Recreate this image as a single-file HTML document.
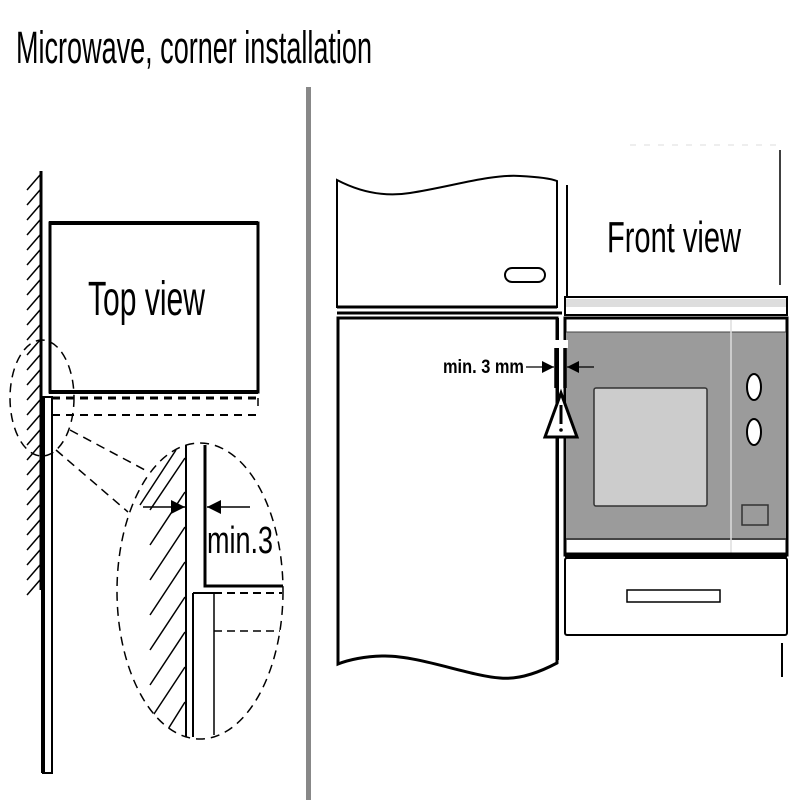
<!DOCTYPE html>
<html><head><meta charset="utf-8"><style>html,body{margin:0;padding:0;background:#fff}svg{display:block}</style></head>
<body>
<svg width="800" height="800" viewBox="0 0 800 800" xmlns="http://www.w3.org/2000/svg" font-family="Liberation Sans, sans-serif">
<defs>
<marker id="ah" viewBox="0 0 10 10" refX="10" refY="5" markerWidth="12" markerHeight="12" orient="auto" markerUnits="userSpaceOnUse">
<path d="M0,0 L10,5 L0,10 z" fill="#000"/></marker>
<marker id="ahb" viewBox="0 0 10 10" refX="10" refY="5" markerWidth="14" markerHeight="14" orient="auto" markerUnits="userSpaceOnUse">
<path d="M0,0 L10,5 L0,10 z" fill="#000"/></marker>
<clipPath id="bigc"><ellipse cx="200" cy="591" rx="83" ry="148"/></clipPath>
</defs>
<text x="16" y="63" font-size="45" textLength="356" lengthAdjust="spacingAndGlyphs">Microwave, corner installation</text>
<rect x="306" y="87" width="5" height="713" fill="#888"/>

<!-- left: wall -->
<line x1="41" y1="171" x2="41" y2="400" stroke="#000" stroke-width="3"/>
<g stroke="#000" stroke-width="1.5">
<line x1="27" y1="190" x2="40" y2="175"/><line x1="27" y1="205" x2="40" y2="190"/><line x1="27" y1="220" x2="40" y2="205"/><line x1="27" y1="235" x2="40" y2="220"/><line x1="27" y1="250" x2="40" y2="235"/><line x1="27" y1="265" x2="40" y2="250"/><line x1="27" y1="280" x2="40" y2="265"/><line x1="27" y1="295" x2="40" y2="280"/><line x1="27" y1="310" x2="40" y2="295"/><line x1="27" y1="325" x2="40" y2="310"/><line x1="27" y1="340" x2="40" y2="325"/><line x1="27" y1="355" x2="40" y2="340"/><line x1="27" y1="370" x2="40" y2="355"/><line x1="27" y1="385" x2="40" y2="370"/><line x1="27" y1="400" x2="40" y2="385"/><line x1="27" y1="415" x2="40" y2="400"/><line x1="27" y1="430" x2="40" y2="415"/><line x1="27" y1="445" x2="40" y2="430"/><line x1="27" y1="460" x2="40" y2="445"/><line x1="27" y1="475" x2="40" y2="460"/><line x1="27" y1="490" x2="40" y2="475"/><line x1="27" y1="505" x2="40" y2="490"/><line x1="27" y1="520" x2="40" y2="505"/><line x1="27" y1="535" x2="40" y2="520"/><line x1="27" y1="550" x2="40" y2="535"/><line x1="27" y1="565" x2="40" y2="550"/><line x1="27" y1="580" x2="40" y2="565"/><line x1="27" y1="595" x2="40" y2="580"/>
</g>
<line x1="41" y1="398" x2="41" y2="590" stroke="#000" stroke-width="3"/>
<rect x="43" y="397" width="9" height="376" fill="#fff" stroke="#000" stroke-width="2"/>
<line x1="43" y1="397" x2="43" y2="773" stroke="#000" stroke-width="4"/>
<rect x="50" y="223" width="208" height="169" fill="none" stroke="#000" stroke-width="3"/>
<line x1="49" y1="223" x2="258" y2="223" stroke="#000" stroke-width="4"/>
<line x1="49" y1="392" x2="258" y2="392" stroke="#000" stroke-width="4"/>
<text x="88" y="315" font-size="48" textLength="117" lengthAdjust="spacingAndGlyphs">Top view</text>
<g stroke="#000" fill="none" stroke-dasharray="8,6">
<line x1="52" y1="398" x2="258" y2="398" stroke-width="3"/>
<line x1="52" y1="415" x2="256" y2="415" stroke-width="2"/>
<line x1="258" y1="398" x2="258" y2="412" stroke-width="1.5"/>
</g>
<g stroke="#000" fill="none" stroke-width="1.5" stroke-dasharray="9,6">
<ellipse cx="42" cy="398" rx="32" ry="58"/>
<ellipse cx="200" cy="591" rx="83" ry="148"/>
<line x1="56" y1="450" x2="128" y2="512"/>
<line x1="70" y1="430" x2="145" y2="470"/>
</g>
<!-- zoomed detail -->
<g clip-path="url(#bigc)" stroke="#000" stroke-width="1.5">
<line x1="150" y1="510" x2="185" y2="458"/><line x1="150" y1="545" x2="185" y2="492"/><line x1="150" y1="580" x2="185" y2="527"/><line x1="150" y1="615" x2="185" y2="562"/><line x1="150" y1="650" x2="185" y2="597"/><line x1="150" y1="685" x2="185" y2="632"/><line x1="150" y1="720" x2="185" y2="667"/><line x1="155" y1="750" x2="185" y2="702"/><line x1="140" y1="505" x2="176" y2="450"/>
</g>
<line x1="186" y1="445" x2="186" y2="737" stroke="#000" stroke-width="2"/>
<line x1="193" y1="593" x2="193" y2="737" stroke="#000" stroke-width="2"/>
<line x1="214" y1="593" x2="214" y2="735" stroke="#000" stroke-width="1.5"/>
<line x1="193" y1="593" x2="214" y2="593" stroke="#000" stroke-width="2"/>
<line x1="214" y1="593" x2="282" y2="593" stroke="#000" stroke-width="2" stroke-dasharray="8,5"/>
<line x1="214" y1="631" x2="280" y2="631" stroke="#000" stroke-width="1.5" stroke-dasharray="8,5"/>
<polyline points="205,445 205,586 283,586" fill="none" stroke="#000" stroke-width="3"/>
<line x1="143" y1="507" x2="185" y2="507" stroke="#000" stroke-width="1.5" marker-end="url(#ahb)"/>
<line x1="250" y1="507" x2="207" y2="507" stroke="#000" stroke-width="1.5" marker-end="url(#ahb)"/>
<text x="207" y="553" font-size="38" textLength="66" lengthAdjust="spacingAndGlyphs">min.3</text>

<!-- right: fridge -->
<path d="M337,180 C360,192 385,197 410,193 C450,187 490,174 520,176 C540,177 552,179 557,181 L557,307 L337,307 Z" fill="#fff" stroke="#000" stroke-width="2"/>
<line x1="337" y1="307" x2="557" y2="307" stroke="#000" stroke-width="3"/>
<line x1="337" y1="313" x2="562" y2="313" stroke="#000" stroke-width="3"/>
<rect x="505" y="268" width="40" height="14" rx="7" fill="#fff" stroke="#000" stroke-width="2"/>
<line x1="567" y1="185" x2="567" y2="298" stroke="#000" stroke-width="2"/>
<path d="M338,318 L557,318 L557,663 C540,672 520,680 500,678 C470,676 420,656 385,656 C365,656 348,660 338,664 Z" fill="#fff" stroke="#000" stroke-width="3"/>
<text x="607" y="252" font-size="44" textLength="134" lengthAdjust="spacingAndGlyphs">Front view</text>
<line x1="780" y1="150" x2="780" y2="285" stroke="#000" stroke-width="1.5"/>
<line x1="630" y1="145" x2="780" y2="145" stroke="#ddd" stroke-width="1" stroke-dasharray="6,8"/>

<!-- microwave -->
<rect x="565" y="297" width="222" height="18" fill="#fff" stroke="#000" stroke-width="2"/>
<rect x="566" y="299" width="220" height="8" fill="#ddd"/>
<rect x="565" y="318" width="222" height="237" fill="#fff" stroke="#000" stroke-width="3"/>
<rect x="566" y="332" width="220" height="207" fill="#9b9b9b"/>
<line x1="566" y1="332" x2="786" y2="332" stroke="#444" stroke-width="1"/>
<line x1="566" y1="539" x2="786" y2="539" stroke="#444" stroke-width="2"/>
<line x1="731" y1="320" x2="731" y2="553" stroke="#ddd" stroke-width="1.5"/>
<line x1="565" y1="555" x2="787" y2="555" stroke="#000" stroke-width="5"/>
<rect x="594" y="388" width="113" height="118" rx="2" fill="#ccc" stroke="#333" stroke-width="1.5"/>
<ellipse cx="754" cy="387" rx="7" ry="13" fill="#fff" stroke="#000" stroke-width="2"/>
<ellipse cx="754" cy="432" rx="7" ry="13" fill="#fff" stroke="#000" stroke-width="2"/>
<rect x="742" y="505" width="26" height="20" fill="none" stroke="#333" stroke-width="1.5"/>
<rect x="565" y="558" width="222" height="77" rx="2" fill="#fff" stroke="#000" stroke-width="2"/>
<rect x="627" y="590" width="93" height="12" fill="#fff" stroke="#000" stroke-width="1.5"/>
<line x1="782" y1="643" x2="782" y2="677" stroke="#000" stroke-width="2"/>

<!-- gap indicator -->
<line x1="558" y1="318" x2="558" y2="660" stroke="#000" stroke-width="2"/>
<line x1="565" y1="318" x2="565" y2="555" stroke="#000" stroke-width="2"/>
<rect x="554" y="340" width="14" height="8" fill="#fff"/>
<line x1="556" y1="348" x2="556" y2="388" stroke="#000" stroke-width="3.5"/>
<line x1="565" y1="348" x2="565" y2="388" stroke="#000" stroke-width="3.5"/>
<line x1="526" y1="367" x2="554" y2="367" stroke="#000" stroke-width="1.2" marker-end="url(#ah)"/>
<line x1="594" y1="367" x2="567" y2="367" stroke="#000" stroke-width="1.2" marker-end="url(#ah)"/>
<text x="443" y="373" font-size="19" font-weight="bold" textLength="81" lengthAdjust="spacingAndGlyphs">min. 3 mm</text>
<path d="M561,393 L577,437 L545,437 Z" fill="#fff" stroke="#000" stroke-width="3" stroke-linejoin="miter"/>
<line x1="561" y1="405" x2="561" y2="424" stroke="#000" stroke-width="3"/>
<circle cx="561" cy="430" r="1.8" fill="#000"/>
</svg>
</body></html>
